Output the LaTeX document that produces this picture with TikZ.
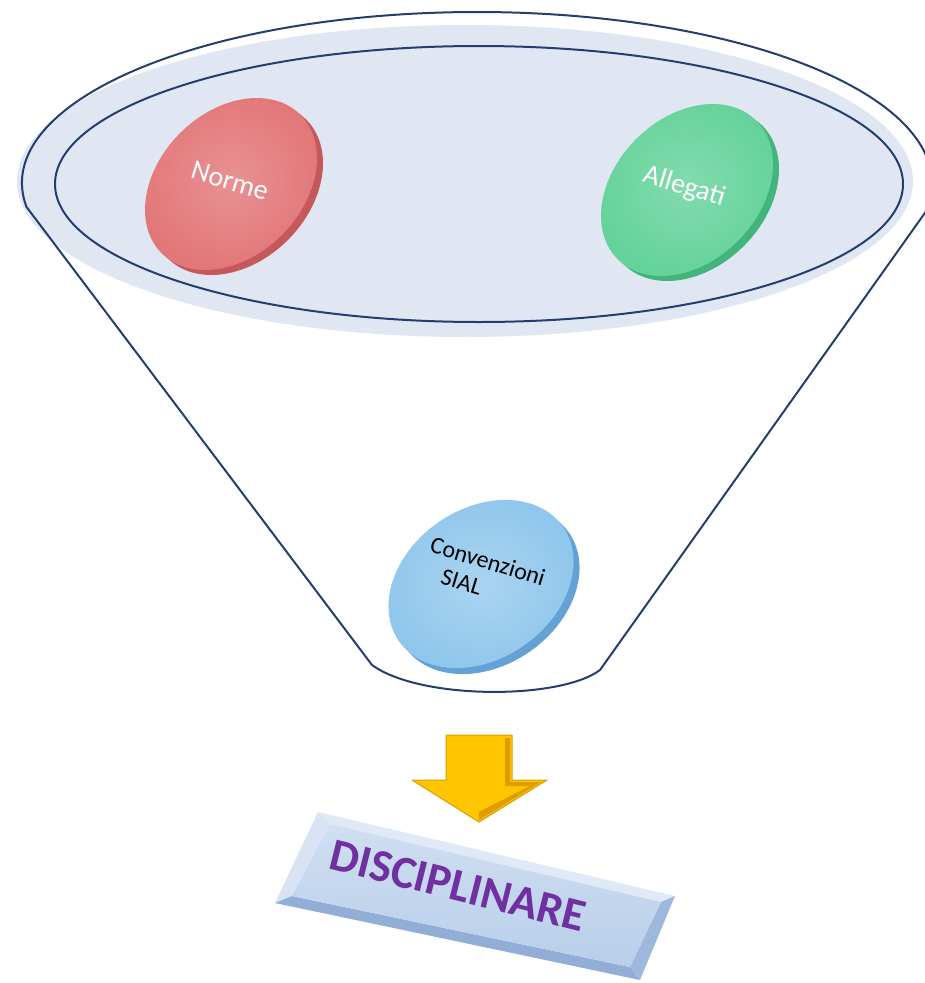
\documentclass[tikz,border=0pt]{standalone}
\usepackage{fontspec}
\setmainfont{Carlito}
\usetikzlibrary{shapes.geometric}
\usetikzlibrary{calc}

\definecolor{funnelline}{RGB}{36,62,112}
\definecolor{funnelfill}{RGB}{225,231,242}
\definecolor{normeface}{RGB}{226,118,120}
\definecolor{normerim}{RGB}{196,88,92}
\definecolor{allegatiface}{RGB}{100,210,154}
\definecolor{allegatirim}{RGB}{66,180,124}
\definecolor{sialface}{RGB}{142,198,236}
\definecolor{sialrim}{RGB}{100,162,214}
\definecolor{arrowyellow}{RGB}{255,198,0}
\definecolor{arrowedge}{RGB}{222,156,0}
\definecolor{plateface}{RGB}{184,206,234}
\definecolor{platelight}{RGB}{224,234,246}
\definecolor{platedark}{RGB}{146,174,214}
\definecolor{discipurple}{RGB}{112,48,160}

\begin{document}
\begin{tikzpicture}[x=1pt,y=-1pt,
  discshape/.style={ellipse, inner sep=0pt, minimum width=196, minimum height=144},
  disctext/.style={rotate=-17, font=\fontsize{28pt}{30pt}\selectfont},
  funnelstroke/.style={draw=funnelline, line width=2pt}]
\useasboundingbox (0,0) rectangle (925,983);

% funnel
\fill[funnelfill] (465,181) ellipse [x radius=448, y radius=156];
\draw[funnelstroke] (479,184) ellipse [x radius=424, y radius=138];
\draw[funnelstroke] (477,183) ++(172:455 and 171) arc [start angle=172, end angle=370, x radius=455, y radius=171]
  -- (600,670) .. controls (560,700) and (420,700) .. (372,665) -- cycle;

% discs
\node[discshape, rotate=45, fill=normerim] (normerim) at (237,189) {};
\node[discshape, rotate=45, shade, inner color=normeface!80!white, outer color=normeface] (norme) at (231,184) {};
\node[disctext, text=white] (normetext) at (230,181) {Norme};

\node[discshape, rotate=45, fill=allegatirim] (allegatirim) at (693,195) {};
\node[discshape, rotate=45, shade, inner color=allegatiface!80!white, outer color=allegatiface] (allegati) at (687,190) {};
\node[disctext, text=white] (allegatitext) at (684,187) {Allegati};

\node[discshape, minimum width=200, minimum height=150, rotate=35, fill=sialrim] (sialrim) at (487,590) {};
\node[discshape, minimum width=200, minimum height=150, rotate=35, shade, inner color=sialface!75!white, outer color=sialface] (sial) at (481,584) {};
\node[disctext, font=\fontsize{24pt}{27pt}\selectfont, align=center, text=black] (sialtext) at (484,574) {Convenzioni\\SIAL\hspace*{1.6em}};

% arrow
\draw[fill=arrowyellow, draw=arrowedge, line width=1pt, line join=round]
  (446,735) -- (512,735) -- (512,780) -- (547,780) -- (479,822) -- (412,780) -- (446,780) -- cycle;
\fill[arrowedge] (505,738) -- (510,738) -- (510,782) -- (541,782) -- (479,820) -- (479,812) -- (530,786) -- (505,786) -- cycle;

% plate
\coordinate (pa) at (318,812);
\coordinate (pb) at (675,896);
\coordinate (pc) at (640,980);
\coordinate (pd) at (275,903);
\coordinate (qa) at (330,824);
\coordinate (qb) at (661,902);
\coordinate (qc) at (630,967);
\coordinate (qd) at (292,896);
\fill[platelight] (pa) -- (pb) -- (qb) -- (qa) -- cycle;
\fill[platelight!80!plateface] (pa) -- (qa) -- (qd) -- (pd) -- cycle;
\fill[platedark] (pd) -- (qd) -- (qc) -- (pc) -- cycle;
\fill[platedark!70!plateface] (pb) -- (pc) -- (qc) -- (qb) -- cycle;
\shade[top color=platelight!60!plateface, bottom color=plateface] (qa) -- (qb) -- (qc) -- (qd) -- cycle;
\node[rotate=-14, text=discipurple, font=\fontsize{46pt}{46pt}\selectfont\bfseries] (disciplinare) at (458,886) {DISCIPLINARE};

\end{tikzpicture}
\end{document}
